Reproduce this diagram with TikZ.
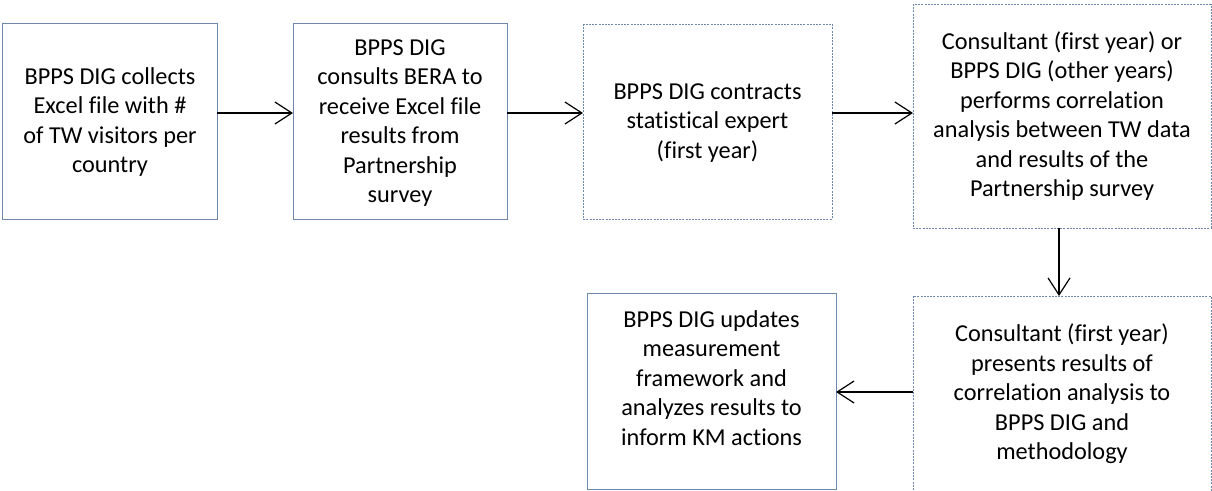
\documentclass[tikz,border=0pt]{standalone}
\usepackage{fontspec}
\setmainfont{Carlito}[Ligatures=NoCommon]
\usetikzlibrary{arrows.meta}
\definecolor{boxline}{RGB}{110,135,172}
\tikzset{
  solidbox/.style={draw=boxline, line width=1pt},
  dotbox/.style={draw=boxline, line width=1pt, dash pattern=on 2pt off 1.2pt},
  txt/.style={align=center, font=\fontsize{24.3pt}{29.5pt}\selectfont, inner sep=0pt},
  flow/.style={-{Straight Barb[length=17pt,width=22pt]}, line width=1.2pt, black}
}
\begin{document}
\begin{tikzpicture}[x=1pt,y=-1pt]
\useasboundingbox (0,0) rectangle (1212,490);
\clip (0,0) rectangle (1212,490);
% boxes
\draw[solidbox] (2.5,23) rectangle (217,219);
\draw[solidbox] (293,23) rectangle (507,219);
\draw[dotbox] (583,24) rectangle (832,219);
\draw[dotbox] (913,4) rectangle (1211,228);
\draw[dotbox] (913,296) rectangle (1211,494);
\draw[solidbox] (587,293) rectangle (836,489);
% anchors for connectors
\coordinate (b1r) at (217,113);
\coordinate (b2l) at (293,113);
\coordinate (b2r) at (507,113);
\coordinate (b3l) at (583,113);
\coordinate (b3r) at (832,113);
\coordinate (b4l) at (913,113);
\coordinate (b4b) at (1059,228);
\coordinate (b5t) at (1059,296);
\coordinate (b5l) at (913,392);
\coordinate (b6r) at (836,392);
% texts
\node[txt] (t1) at (110,122) {BPPS DIG collects\\Excel file with \#\\of TW visitors per\\country};
\node[txt] (t2) at (400,123) {BPPS DIG\\consults BERA to\\receive Excel file\\results from\\Partnership\\survey};
\node[txt] (t3) at (707.5,123) {BPPS DIG contracts\\statistical expert\\(first year)};
\node[txt] (t4) at (1062,116) {Consultant (first year) or\\BPPS DIG (other years)\\performs correlation\\analysis between TW data\\and results of the\\Partnership survey};
\node[txt] (t5) at (1062,394) {Consultant (first year)\\presents results of\\correlation analysis to\\BPPS DIG and\\methodology};
\node[txt] (t6) at (711.5,378) {BPPS DIG updates\\measurement\\framework and\\analyzes results to\\inform KM actions};
% connectors
\draw[flow] (b1r) -- (b2l);
\draw[flow] (b2r) -- (b3l);
\draw[flow] (b3r) -- (b4l);
\draw[flow] (b4b) -- (b5t);
\draw[flow] (b5l) -- (b6r);
\end{tikzpicture}
\end{document}
